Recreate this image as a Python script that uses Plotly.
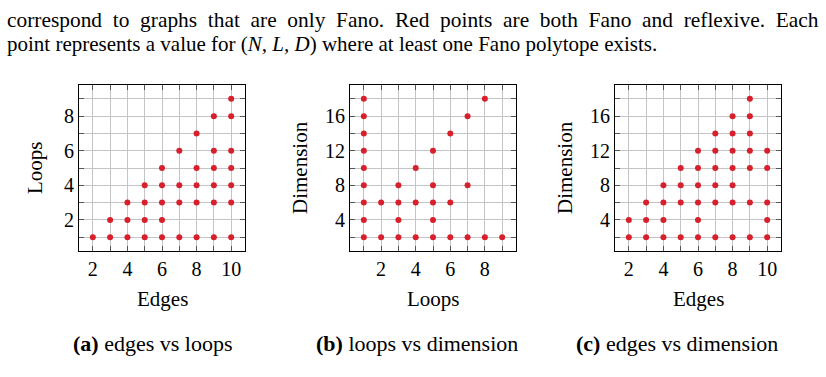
import plotly.graph_objects as go

W, H = 826, 377

# ---- data ----
# (a) edges vs loops
a_edges = [2, 3, 3, 4, 4, 4, 5, 5, 5, 5, 6, 6, 6, 6, 6,
           7, 7, 7, 7, 8, 8, 8, 8, 8, 9, 9, 9, 9, 9, 9,
           10, 10, 10, 10, 10, 10, 10]
a_loops = [1, 1, 2, 1, 2, 3, 1, 2, 3, 4, 1, 2, 3, 4, 5,
           1, 3, 4, 6, 1, 3, 4, 5, 7, 1, 3, 4, 5, 6, 8,
           1, 3, 4, 5, 6, 8, 9]
# (b) loops vs dimension
b_loops = [1, 1, 1, 1, 1, 1, 1, 1, 1, 2, 2, 3, 3, 3, 3, 4, 4, 4,
           5, 5, 5, 5, 5, 6, 6, 6, 7, 7, 7, 8, 8, 9]
b_dims = [2, 4, 6, 8, 10, 12, 14, 16, 18, 2, 6, 2, 4, 6, 8, 2, 6, 10,
          2, 4, 6, 8, 12, 2, 6, 14, 2, 8, 16, 2, 18, 2]
# (c) edges vs dimension
c_edges = [2, 2, 3, 3, 3, 4, 4, 4, 4, 5, 5, 5, 5,
           6, 6, 6, 6, 6, 6, 7, 7, 7, 7, 7, 7,
           8, 8, 8, 8, 8, 8, 8, 9, 9, 9, 9, 9, 9, 9,
           10, 10, 10, 10, 10]
c_dims = [2, 4, 2, 4, 6, 2, 4, 6, 8, 2, 6, 8, 10,
          2, 4, 6, 8, 10, 12, 2, 6, 8, 10, 12, 14,
          2, 6, 8, 10, 12, 14, 16, 2, 6, 10, 12, 14, 16, 18,
          2, 4, 6, 10, 12]

edge_ticks = [2, 3, 4, 5, 6, 7, 8, 9, 10]
edge_labels = ["2", "", "4", "", "6", "", "8", "", "10"]
loop_ticks_a = [1, 2, 3, 4, 5, 6, 7, 8, 9]
loop_labels_a = ["", "2", "", "4", "", "6", "", "8", ""]
loop_ticks_b = [1, 2, 3, 4, 5, 6, 7, 8, 9]
loop_labels_b = ["", "2", "", "4", "", "6", "", "8", ""]
dim_ticks = [2, 4, 6, 8, 10, 12, 14, 16, 18]
dim_labels = ["", "4", "", "8", "", "12", "", "16", ""]

line1_words = ["correspond", "to", "graphs", "that", "are", "only", "Fano.", "Red", "points",
               "are", "both", "Fano", "and", "reflexive.", "Each"]
line2 = "point represents a value for (<i>N, L, D</i>) where at least one Fano polytope exists."
captions = [("(a)", "edges vs loops"), ("(b)", "loops vs dimension"), ("(c)", "edges vs dimension")]

# ---- layout helpers ----
def px(x):
    return x / W

def py(y):
    return 1 - y / H

FONT = "Liberation Serif"
RED = "#d7202c"
GRID = "#c4c4c4"

panels = [
    dict(x=a_edges, y=a_loops, left=79, right=245, xr=[1.2, 10.8], yr=[0.2, 9.8],
         xt=edge_ticks, xl=edge_labels, yt=loop_ticks_a, yl=loop_labels_a,
         xtitle="Edges", ytitle="Loops", ytx=35, capx=152),
    dict(x=b_loops, y=b_dims, left=350, right=516, xr=[0.2, 9.8], yr=[0.4, 19.6],
         xt=loop_ticks_b, xl=loop_labels_b, yt=dim_ticks, yl=dim_labels,
         xtitle="Loops", ytitle="Dimension", ytx=300, capx=417),
    dict(x=c_edges, y=c_dims, left=615, right=781, xr=[1.2, 10.8], yr=[0.4, 19.6],
         xt=edge_ticks, xl=edge_labels, yt=dim_ticks, yl=dim_labels,
         xtitle="Edges", ytitle="Dimension", ytx=565, capx=677),
]
TOP, BOTTOM = 85, 251

fig = go.Figure()
annotations = []
layout = {}
for i, p in enumerate(panels, start=1):
    xa = "x" if i == 1 else f"x{i}"
    ya = "y" if i == 1 else f"y{i}"
    fig.add_trace(go.Scatter(x=p["x"], y=p["y"], mode="markers",
                             marker=dict(color=RED, size=6, line=dict(width=0)),
                             xaxis=xa, yaxis=ya, showlegend=False, cliponaxis=False))
    axis_common = dict(showline=True, linecolor="black", linewidth=1.1, mirror="ticks",
                       ticks="inside", ticklen=5, tickwidth=1, tickcolor="#555555",
                       showgrid=True, gridcolor=GRID, gridwidth=1, zeroline=False,
                       tickfont=dict(family=FONT, size=20, color="black"), fixedrange=True)
    layout["xaxis" if i == 1 else f"xaxis{i}"] = dict(
        axis_common, domain=[px(p["left"]), px(p["right"])], range=p["xr"],
        tickmode="array", tickvals=p["xt"], ticktext=p["xl"],
        anchor=ya)
    layout["yaxis" if i == 1 else f"yaxis{i}"] = dict(
        axis_common, domain=[py(BOTTOM), py(TOP)], range=p["yr"],
        tickmode="array", tickvals=p["yt"], ticktext=p["yl"],
        anchor=xa)
    cx = (p["left"] + p["right"]) / 2
    annotations.append(dict(text=p["xtitle"], x=px(cx), y=py(299), xref="paper", yref="paper",
                            showarrow=False, xanchor="center", yanchor="middle",
                            font=dict(family=FONT, size=21, color="black")))
    annotations.append(dict(text=p["ytitle"], x=px(p["ytx"]), y=py(168), xref="paper", yref="paper",
                            showarrow=False, xanchor="center", yanchor="middle", textangle=-90,
                            font=dict(family=FONT, size=21, color="black")))
    lab, cap = captions[i - 1]
    annotations.append(dict(text=f"<b>{lab}</b> {cap}", x=px(p["capx"]), y=py(343),
                            xref="paper", yref="paper",
                            showarrow=False, xanchor="center", yanchor="middle",
                            font=dict(family=FONT, size=22, color="black")))

# justified first line: spaces widened with non-breaking spaces
line1 = " \u00a0".join(line1_words)
annotations.append(dict(text=line1, x=px(5), y=py(20), xref="paper", yref="paper",
                        showarrow=False, xanchor="left", yanchor="middle",
                        font=dict(family=FONT, size=21.4, color="black")))
annotations.append(dict(text=line2, x=px(5), y=py(44), xref="paper", yref="paper",
                        showarrow=False, xanchor="left", yanchor="middle",
                        font=dict(family=FONT, size=21, color="black")))

fig.update_layout(width=W, height=H, margin=dict(l=0, r=0, t=0, b=0),
                  paper_bgcolor="white", plot_bgcolor="white",
                  annotations=annotations, **layout)
fig.write_html("out.html")
